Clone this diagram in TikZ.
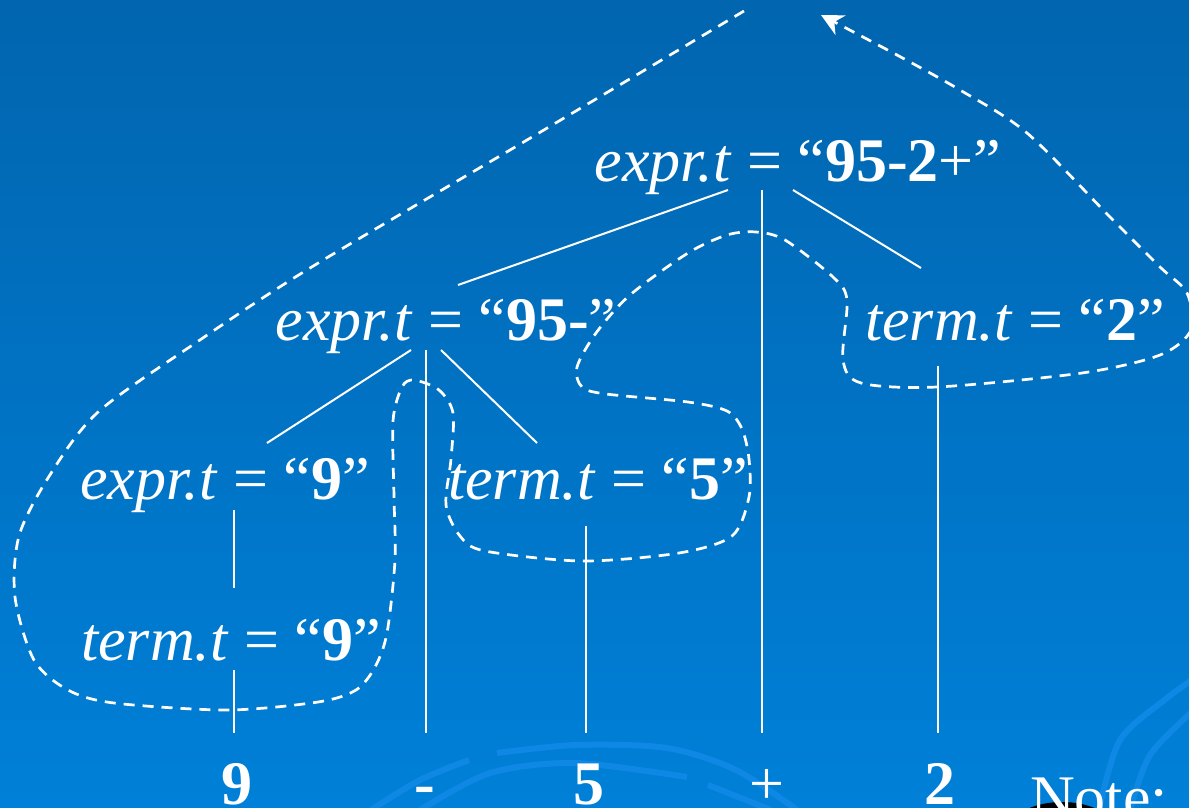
\documentclass[tikz,border=0pt]{standalone}
\usepackage{fontspec}
\setmainfont{Liberation Serif}
\usepackage{tikz}
\usetikzlibrary{arrows.meta}

\definecolor{slidetop}{RGB}{1,101,175}
\definecolor{slidemid}{RGB}{1,110,187}
\definecolor{slidebot}{RGB}{0,128,216}
\definecolor{swirl}{RGB}{14,136,228}

\tikzset{
  attr/.style={text=white, font=\fontsize{62}{70}\selectfont, anchor=base, inner sep=0pt},
  branch/.style={draw=white, line width=2pt},
  tour/.style={draw=white, line width=2.7pt, dash pattern=on 11pt off 8pt},
  swirlarc/.style={draw=swirl, line width=6pt}
}

\begin{document}
\begin{tikzpicture}[x=1pt, y=-1pt, >={Stealth[length=22pt,width=22pt,inset=7pt]}]
		\useasboundingbox (0,0) rectangle (1189,807);
		\clip (0,0) rectangle (1189,807);
		\shade[top color=slidetop, middle color=slidemid, bottom color=slidebot] (0,0) rectangle (1189,807);

		\draw[swirlarc] plot[smooth] coordinates {(497,753) (576,745) (667,748) (736,770) (800,812)};
		\draw[swirlarc] plot[smooth] coordinates {(371,810) (420,780) (469,760)};
		\draw[swirlarc] plot[smooth] coordinates {(420,810) (490,773) (575,763) (687,777)};
		\draw[swirlarc] plot[smooth] coordinates {(708,785) (771,810)};
		\draw[swirlarc] plot[smooth] coordinates {(1099,810) (1120,740) (1167,698) (1192,680)};
		\draw[swirlarc] plot[smooth] coordinates {(1130,810) (1150,755) (1192,712)};
		\fill[black] (1062,842) ellipse [x radius=62, y radius=40];
		\node(Note)[attr, anchor=base west] at (1030,818) {Note:};

		\node(N)[attr] at (798,181) {\textit{expr.t} = “\textbf{95-2}+”};
		\node(L)[attr] at (446,340) {\textit{expr.t} = “\textbf{95-}”};
		\node(R)[attr] at (1015,340) {\textit{term.t} = “\textbf{2}”};
		\node(LL)[attr] at (225,499) {\textit{expr.t} = “\textbf{9}”};
		\node(LR)[attr] at (598,499) {\textit{term.t} = “\textbf{5}”};
		\node(LLL)[attr] at (231,660) {\textit{term.t} = “\textbf{9}”};
		\node(N9)[attr] at (237,804) {\textbf{9}};
		\node(Nm)[attr] at (425,804) {\textbf{-}};
		\node(N5)[attr] at (589,804) {\textbf{5}};
		\node(Np)[attr] at (767,804) {+};
		\node(N2)[attr] at (940,804) {\textbf{2}};

		\draw[branch] ([shift={(-70,9)}]N.base) -- ([shift={(12,-55)}]L.base);
		\draw[branch] ([shift={(-36,9)}]N.base) -- ([shift={(-5,-71)}]Np.base);
		\draw[branch] ([shift={(-5,9)}]N.base) -- ([shift={(-94,-72)}]R.base);
		\draw[branch] ([shift={(-35,10)}]L.base) -- ([shift={(42,-56)}]LL.base);
		\draw[branch] ([shift={(-20,10)}]L.base) -- ([shift={(1,-71)}]Nm.base);
		\draw[branch] ([shift={(-5,10)}]L.base) -- ([shift={(-61,-56)}]LR.base);
		\draw[branch] ([shift={(-77,26)}]R.base) -- ([shift={(-2,-71)}]N2.base);
		\draw[branch] ([shift={(9,11)}]LL.base) -- ([shift={(3,-72)}]LLL.base);
		\draw[branch] ([shift={(-12,27)}]LR.base) -- ([shift={(-3,-71)}]N5.base);
		\draw[branch] ([shift={(3,10)}]LLL.base) -- ([shift={(-3,-71)}]N9.base);

		\draw[tour, ->] plot[smooth] coordinates {(744,11) (527,140) (310,268) (194,344) (97,413) (48,478) (19,536) (15,597) (34,660) (68,690) (114,703) (227,710) (318,702) (356,690) (375,667) (387,633) (395,560) (394,497) (393,421) (402,387) (414,380) (439,390) (453,413) (451,459) (446,505) (460,536) (485,551) (582,561) (679,553) (732,536) (749,497) (749,459) (742,429) (727,411) (688,402) (606,394) (582,387) (577,367) (596,333) (630,295) (688,253) (727,235) (756,232) (785,240) (833,277) (847,300) (843,360) (861,383) (937,387) (1082,373) (1160,355) (1191,330) (1187,293) (1160,267) (1110,217) (1027,133) (960,90) (897,55) (821,15)};
	\end{tikzpicture}
\end{document}
